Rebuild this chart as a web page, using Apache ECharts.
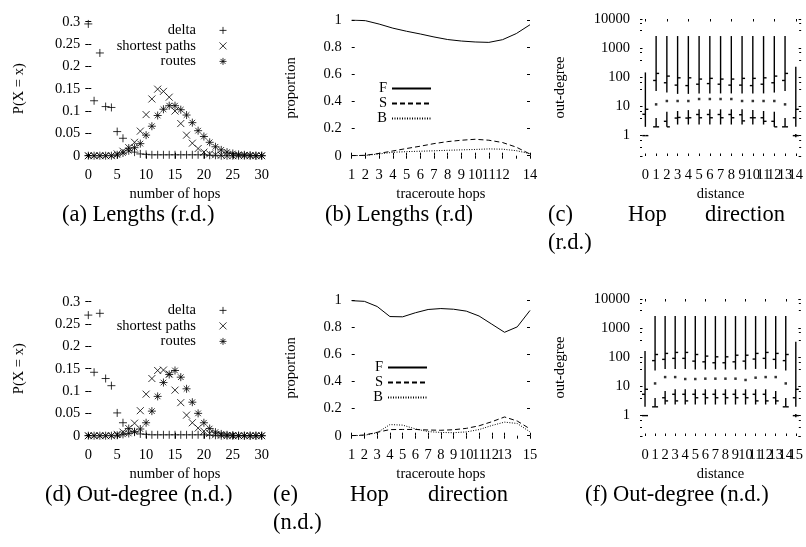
<!DOCTYPE html>
<html>
<head>
<meta charset="utf-8">
<script src="https://cdn.jsdelivr.net/npm/echarts@6/dist/echarts.min.js"></script>
<style>
  html, body { margin: 0; padding: 0; background: #fff; }
  #chart { width: 806px; height: 547px; }
</style>
</head>
<body>
<div id="chart"></div>
<script>
// ---- data ----
const hops = [0,1,2,3,4,5,6,7,8,9,10,11,12,13,14,15,16,17,18,19,20,21,22,23,24,25,26,27,28,29,30];

// (a) lengths r.d.
const aDelta    = [0.295,0.123,0.23,0.11,0.108,0.054,0.039,0.017,0.008,0.004,0.003,0.002,0.002,0.002,0.002,0.002,0.002,0.002,0.002,0.002,0.002,0.001,0.001,0,0,0,0,0,0,0,0];
const aShortest = [0,0,0,0,0,0.004,0.01,0.018,0.03,0.055,0.092,0.127,0.149,0.144,0.131,0.1,0.072,0.046,0.028,0.016,0.008,0.004,0.002,0.001,0,0,0,0,0,0,0];
const aRoutes   = [0,0,0,0,0,0.002,0.006,0.011,0.018,0.027,0.046,0.066,0.09,0.104,0.112,0.112,0.103,0.091,0.074,0.056,0.043,0.03,0.02,0.013,0.008,0.005,0.003,0.002,0.001,0,0];

// (d) out-degree n.d.
const dDelta    = [0.27,0.142,0.274,0.128,0.112,0.051,0.029,0.016,0.008,0.004,0.003,0.002,0.002,0.002,0.002,0.002,0.002,0.002,0.002,0.002,0.002,0.001,0.001,0,0,0,0,0,0,0,0];
const dShortest = [0,0,0,0,0,0.003,0.008,0.016,0.028,0.056,0.093,0.128,0.146,0.147,0.138,0.102,0.074,0.046,0.029,0.017,0.01,0.005,0.002,0.001,0,0,0,0,0,0,0];
const dRoutes   = [0,0,0,0,0,0.001,0.003,0.005,0.009,0.015,0.029,0.055,0.088,0.119,0.137,0.146,0.131,0.105,0.075,0.05,0.029,0.016,0.008,0.004,0.002,0.001,0,0,0,0,0];

// (b) traceroute hops 1..14
const bHops = [1,2,3,4,5,6,7,8,9,10,11,12,13,14];
const bF = [1.0,0.995,0.97,0.94,0.917,0.897,0.875,0.856,0.845,0.838,0.835,0.855,0.9,0.965];
const bS = [0,0.003,0.017,0.035,0.053,0.07,0.089,0.104,0.114,0.121,0.114,0.097,0.063,0.012];
const bB = [0,0.002,0.013,0.025,0.03,0.033,0.036,0.04,0.043,0.046,0.05,0.048,0.037,0.015];

// (e) traceroute hops 1..15
const eHops = [1,2,3,4,5,6,7,8,9,10,11,12,13,14,15];
const eF = [0.995,0.99,0.952,0.878,0.876,0.906,0.93,0.937,0.932,0.918,0.882,0.822,0.762,0.802,0.923];
const eS = [0,0.005,0.025,0.045,0.046,0.046,0.042,0.04,0.044,0.054,0.073,0.103,0.138,0.108,0.05];
const eB = [0,0.003,0.022,0.082,0.078,0.05,0.03,0.024,0.022,0.028,0.045,0.075,0.1,0.09,0.028];

// (c) out-degree by distance 0..14
const cDist    = ['0','1','2','3','4','5','6','7','8','9','10','11','12','13','14'];
const cUpLow   = [2,34,30,27,27,28,28,28,28,28,28,28,30,34,2];
const cUpOpen  = [5.4,78,65,54,52,58,61,58,54,54,52,58,65,78,4.1];
const cUpClose = [8,136,110,96,96,87,92,87,87,92,92,96,110,136,8];
const cUpHigh  = [147,2600,2600,2600,2600,2600,2600,2600,2600,2600,2600,2600,2600,2600,230];
const cLoLow   = [1,2,2,2.4,2.4,2.4,2.4,2.4,2.4,2.4,2.4,2.4,2,2,0.88];
const cLoOpen  = [1,2,3.1,4,4,5.3,5.3,5.3,5.3,5.2,4.1,4.1,3.1,2,1];
const cLoClose = [1,2,2,4.2,4.1,4.1,4.1,4.1,4.1,3.2,4.1,3.1,2,2,1];
const cLoHigh  = [1,4,6.6,7,7.5,8,8,8,8,8,7.5,7,6.6,4,1.13];
const cDot     = [null,11.8,15.4,15.4,15.4,18,18,18,18,15.4,15.4,15.4,15.4,11.8,null];

// (f) out-degree by distance 0..15
const fDist    = ['0','1','2','3','4','5','6','7','8','9','10','11','12','13','14','15'];
const fUpLow   = [2,35,40,40,40,38,38,38,38,38,38,40,40,40,35,2];
const fUpOpen  = [5.4,77,85,92,92,74,70,65,65,70,74,87,92,85,77,4.1];
const fUpClose = [8,125,136,147,147,125,110,104,104,118,118,136,147,136,125,8];
const fUpHigh  = [163,2600,2600,2600,2600,2600,2600,2600,2600,2600,2600,2600,2600,2600,2600,340];
const fLoLow   = [1,2,2.4,2.4,2.4,2.4,2.4,2.4,2.4,2.4,2.4,2.4,2.4,2.4,2,0.88];
const fLoOpen  = [1,2,4.1,5.4,5.4,5.4,5.4,5.4,5.4,5.4,5.4,5.4,5.4,4.1,2,1];
const fLoClose = [1,2,3.2,3.2,3.2,4.1,4.1,4.1,4.1,4.1,4.1,3.2,3.2,3.2,2,1];
const fLoHigh  = [1,4,7,8,8,8,8,8,8,8,8,8,8,7,4,1.13];
const fDot     = [null,12.7,21,21,18,18,18.5,18.5,18.5,18.5,16.7,20,21,21,12.7,null];

// ---- styling ----
const FONT = 'Liberation Serif';
const txt = { color: '#000', fontFamily: FONT, fontSize: 14.5 };
const PLUS  = 'path://M5,0L5,10M0,5L10,5';
const CROSS = 'path://M0,0L10,10M0,10L10,0';
const STAR  = 'path://M5,0L5,10M0,5L10,5M1.5,1.5L8.5,8.5M1.5,8.5L8.5,1.5';
const markStyle = { color: 'none', borderColor: '#000', borderWidth: 1 };

const option = { animation: false, grid: [], xAxis: [], yAxis: [], series: [], legend: [], graphic: [] };

function xAxisPair(gi, spec) {
  const out = [];
  ['bottom', 'top'].forEach(function (pos) {
    const bottom = pos === 'bottom';
    out.push(option.xAxis.length);
    option.xAxis.push({
      gridIndex: gi, position: pos, type: spec.type, min: spec.min, max: spec.max,
      interval: spec.interval, data: spec.data, boundaryGap: spec.type === 'category',
      axisLine: { show: false },
      axisTick: { show: true, inside: true, length: spec.tick, alignWithLabel: true, lineStyle: { color: '#000' } },
      axisLabel: bottom ? Object.assign({ margin: 12, interval: 0, showMinLabel: true, showMaxLabel: true, hideOverlap: false }, txt) : { show: false },
      splitLine: { show: false },
      name: bottom ? spec.name : '', nameLocation: 'middle', nameGap: 31, nameTextStyle: txt
    });
  });
  return out[0];
}

function yAxisPair(gi, spec) {
  const out = [];
  ['left', 'right'].forEach(function (pos) {
    const left = pos === 'left';
    out.push(option.yAxis.length);
    option.yAxis.push({
      gridIndex: gi, position: pos, type: spec.type, min: spec.min, max: spec.max,
      interval: spec.interval, logBase: spec.logBase,
      axisLine: { show: false },
      axisTick: { show: true, inside: true, length: spec.tick, lineStyle: { color: '#000' } },
      minorTick: spec.minor ? { show: true, splitNumber: 3, length: 2, lineStyle: { color: '#000' } } : { show: false },
      axisLabel: left ? Object.assign({ margin: spec.margin, formatter: spec.fmt, showMinLabel: true, showMaxLabel: true }, txt) : { show: false },
      splitLine: { show: false },
      name: left ? spec.name : '', nameLocation: 'middle', nameGap: spec.nameGap, nameTextStyle: txt
    });
  });
  return out[0];
}

function pairs(xs, ys) { return xs.map(function (x, i) { return [x, ys[i]]; }); }

function hopsPanel(top, delta, shortest, routes) {
  const gi = option.grid.length;
  option.grid.push({ left: 88.3, top: top, width: 173.4, height: 134 });
  const xi = xAxisPair(gi, { type: 'value', min: 0, max: 30, interval: 5, tick: 3, name: 'number of hops' });
  const yi = yAxisPair(gi, { type: 'value', min: 0, max: 0.3, interval: 0.05, tick: 3, margin: 8, name: 'P(X = x)', nameGap: 62 });
  [['delta', delta, PLUS, 8], ['shortest paths', shortest, CROSS, 7], ['routes', routes, STAR, 8]].forEach(function (s) {
    option.series.push({
      type: 'scatter', name: s[0], xAxisIndex: xi, yAxisIndex: yi, data: pairs(hops, s[1]),
      symbol: s[2], symbolSize: s[3], symbolKeepAspect: true, itemStyle: markStyle, silent: true
    });
  });
  option.legend.push({
    orient: 'vertical', align: 'right', right: 577, top: top + 1.2, padding: 0, itemGap: 0.5,
    itemWidth: 44, itemHeight: 7, selectedMode: false, textStyle: txt,
    itemStyle: { color: 'none', borderColor: '#000', borderWidth: 1 },
    data: ['delta', 'shortest paths', 'routes']
  });
}

function dirPanel(top, xsHops, F, S, B, maxHop, legendTop, legendRight) {
  const gi = option.grid.length;
  option.grid.push({ left: 351.7, top: top, width: 178.3, height: 135.7 });
  const xi = xAxisPair(gi, { type: 'value', min: 1, max: maxHop, interval: 1, tick: 3, name: 'traceroute hops' });
  const yi = yAxisPair(gi, { type: 'value', min: 0, max: 1, interval: 0.2, tick: 3, margin: 10, name: 'proportion', nameGap: 53 });
  [['F', F, 'solid'], ['S', S, [5, 3]], ['B', B, [1, 1.5]]].forEach(function (s) {
    option.series.push({
      type: 'line', name: s[0], xAxisIndex: xi, yAxisIndex: yi, data: pairs(xsHops, s[1]),
      symbol: 'none', showSymbol: false, silent: true,
      lineStyle: { color: '#000', width: 1, type: s[2] }, itemStyle: { color: '#000' }
    });
  });
  option.legend.push({
    orient: 'vertical', align: 'right', right: legendRight, top: legendTop, padding: 0, itemGap: 0,
    itemWidth: 39, itemHeight: 10, selectedMode: false, textStyle: txt,
    itemStyle: { opacity: 0 }, data: ['F', 'S', 'B']
  });
}

function finRender(params, api) {
  const x = api.value(0);
  const lo = api.coord([x, api.value(1)]);
  const op = api.coord([x, api.value(2)]);
  const cl = api.coord([x, api.value(3)]);
  const hi = api.coord([x, api.value(4)]);
  const t = 3;
  const st = { stroke: '#000', lineWidth: 1.4 };
  return {
    type: 'group', children: [
      { type: 'line', shape: { x1: lo[0], y1: lo[1], x2: hi[0], y2: hi[1] }, style: st },
      { type: 'line', shape: { x1: op[0] - t, y1: op[1], x2: op[0], y2: op[1] }, style: st },
      { type: 'line', shape: { x1: cl[0], y1: cl[1], x2: cl[0] + t, y2: cl[1] }, style: st }
    ]
  };
}

function logLabel(v) {
  const l = Math.log10(v);
  return (l > -1e-6 && Math.abs(l - Math.round(l)) < 1e-6) ? String(Math.round(v)) : '';
}

function degreePanel(top, dist, upLow, upOpen, upClose, upHigh, loLow, loOpen, loClose, loHigh, dot) {
  const gi = option.grid.length;
  option.grid.push({ left: 640, top: top, width: 162.5, height: 137 });
  const xi = xAxisPair(gi, { type: 'category', data: dist, tick: 2.5, name: 'distance' });
  const yi = yAxisPair(gi, { type: 'log', logBase: 10, min: 0.2, max: 10000, tick: 2.5, minor: true, margin: 10, fmt: logLabel, name: 'out-degree', nameGap: 72 });
  [[upLow, upOpen, upClose, upHigh], [loLow, loOpen, loClose, loHigh]].forEach(function (b) {
    option.series.push({
      type: 'custom', xAxisIndex: xi, yAxisIndex: yi, renderItem: finRender, silent: true,
      encode: { x: 0, y: [1, 2, 3, 4] },
      data: dist.map(function (d, i) { return [i, b[0][i], b[1][i], b[2][i], b[3][i]]; })
    });
  });
  option.series.push({
    type: 'scatter', xAxisIndex: xi, yAxisIndex: yi, symbol: 'rect', symbolSize: 2.5, silent: true,
    itemStyle: { color: '#000' },
    data: dist.map(function (d, i) { return [i, dot[i]]; }).filter(function (p) { return p[1] != null; })
  });
}

hopsPanel(21.7, aDelta, aShortest, aRoutes);
dirPanel(20, bHops, bF, bS, bB, 14, 81, 374);
degreePanel(19, cDist, cUpLow, cUpOpen, cUpClose, cUpHigh, cLoLow, cLoOpen, cLoClose, cLoHigh, cDot);
hopsPanel(301.7, dDelta, dShortest, dRoutes);
dirPanel(300, eHops, eF, eS, eB, 15, 360, 378);
degreePanel(299, fDist, fUpLow, fUpOpen, fUpClose, fUpHigh, fLoLow, fLoOpen, fLoClose, fLoHigh, fDot);

// captions
const capFont = '22.5px "Liberation Serif"';
[
  [62, 215, '(a) Lengths (r.d.)'], [325, 215, '(b) Lengths (r.d)'],
  [548, 215, '(c)'], [628, 215, 'Hop'], [705, 215, 'direction'], [548, 243, '(r.d.)'],
  [45, 495, '(d) Out-degree (n.d.)'],
  [273, 495, '(e)'], [350, 495, 'Hop'], [428, 495, 'direction'], [273, 523, '(n.d.)'],
  [585, 495, '(f) Out-degree (n.d.)']
].forEach(function (c) {
  option.graphic.push({ type: 'text', x: c[0], y: c[1], silent: true,
    style: { text: c[2], font: capFont, fill: '#000', align: 'left', verticalAlign: 'middle' } });
});

const chart = echarts.init(document.getElementById('chart'));
chart.setOption(option);
</script>
</body>
</html>
